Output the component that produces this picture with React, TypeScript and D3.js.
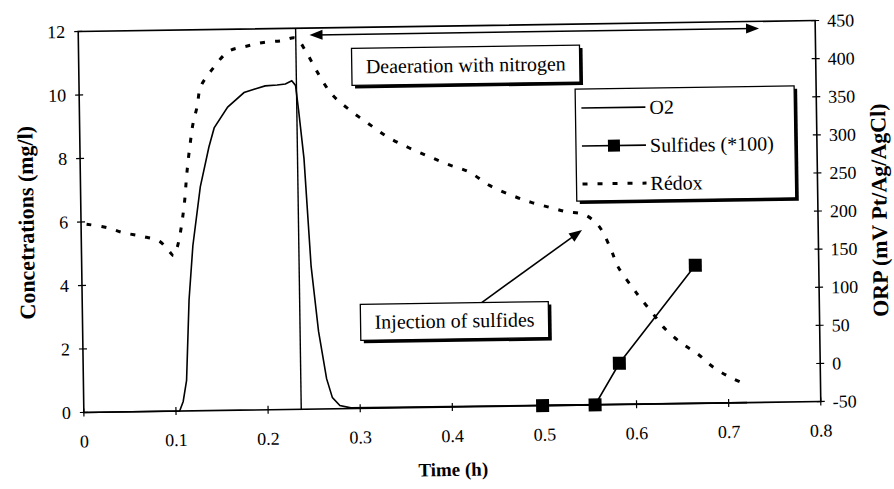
import React from 'react';
import * as d3 from 'd3';

// ---- data ----
const o2Time = [0, 0.104, 0.108, 0.112, 0.116, 0.121, 0.13, 0.14, 0.146, 0.161, 0.179, 0.19, 0.202, 0.215, 0.224, 0.231, 0.235, 0.238, 0.243, 0.249, 0.256, 0.264, 0.27, 0.278, 0.29, 0.72];
const o2Conc = [0, 0, 0.3, 0.96, 3.5, 5.2, 7.05, 8.3, 8.9, 9.55, 10.0, 10.1, 10.2, 10.22, 10.25, 10.35, 10.2, 9.4, 7.9, 4.5, 2.45, 0.95, 0.35, 0.1, 0.02, 0];

const redoxTime = [0.006, 0.028, 0.046, 0.066, 0.085, 0.095, 0.1, 0.104, 0.107, 0.11, 0.113, 0.115, 0.117, 0.12, 0.123, 0.128, 0.132, 0.145, 0.163, 0.181, 0.201, 0.221, 0.236, 0.2465, 0.258, 0.274, 0.292, 0.314, 0.335, 0.357, 0.379, 0.4, 0.422, 0.444, 0.469, 0.489, 0.509, 0.527, 0.546, 0.561, 0.574, 0.582, 0.597, 0.606, 0.619, 0.631, 0.649, 0.667, 0.684, 0.703, 0.721];
const redoxMv = [197, 192, 185, 180, 173, 160, 154, 165, 180, 201, 228, 254, 276, 303, 326, 350, 375, 398, 421, 427, 432, 434, 437, 420, 394, 363, 343, 323, 305, 291, 279, 268, 258, 240, 226, 217, 210, 204, 200, 186, 156, 131, 104, 89, 69, 50, 30, 15, -3, -17, -27];

const sulfTime = [0.498, 0.555, 0.582, 0.666];
const sulfConc = [0, 0, 1.3, 4.35];

const xTicks = [0, 0.1, 0.2, 0.3, 0.4, 0.5, 0.6, 0.7, 0.8];
const xTickLabels = ['0', '0.1', '0.2', '0.3', '0.4', '0.5', '0.6', '0.7', '0.8'];
const leftTicks = [0, 2, 4, 6, 8, 10, 12];
const rightTicks = [-50, 0, 50, 100, 150, 200, 250, 300, 350, 400, 450];

const legendLabels = ['O2', 'Sulfides (*100)', 'Rédox'];
const deaerationTime = 0.236;
const deaerationArrow = [0.251, 0.739];
const deaerationArrowLevel = 11.78;

const FONT = "'Liberation Serif', 'DejaVu Serif', serif";

export default function App() {
  const W = 894, H = 489;
  const L = 81, R = 818, T = 26, B = 407;
  const x = d3.scaleLinear().domain([0, 0.8]).range([L, R]);
  const yL = d3.scaleLinear().domain([0, 12]).range([B, T]);
  const yR = d3.scaleLinear().domain([-50, 450]).range([B, T]);

  const lineL = d3.line<[number, number]>().x(d => x(d[0])).y(d => yL(d[1]));
  const lineR = d3.line<[number, number]>().x(d => x(d[0])).y(d => yR(d[1])).curve(d3.curveCatmullRom);

  const o2Pts = o2Time.map((t, i) => [t, o2Conc[i]] as [number, number]);
  const redoxPts = redoxTime.map((t, i) => [t, redoxMv[i]] as [number, number]);
  const sulfPts = sulfTime.map((t, i) => [t, sulfConc[i]] as [number, number]);

  const sw = 1.6;
  const ay = yL(deaerationArrowLevel);
  const ax1 = x(deaerationArrow[0]);
  const ax2 = x(deaerationArrow[1]);

  const deaBox = { x: 354, y: 47, w: 228, h: 37 };
  const injBox = { x: 359, y: 303, w: 188, h: 36 };
  const legBox = { x: 577, y: 91, w: 219, h: 112 };
  const legRows = [110, 148, 186];

  const txt = { fontFamily: FONT } as React.CSSProperties;

  const shadowBox = (b: { x: number; y: number; w: number; h: number }) => (
    <g>
      <rect x={b.x + 3} y={b.y + 3} width={b.w} height={b.h} fill="#000" />
      <rect x={b.x} y={b.y} width={b.w} height={b.h} fill="#fff" stroke="#000" strokeWidth={1.3} />
    </g>
  );

  const injTip = [581.8, 232];
  const injStart = [479.7, 303.5];
  const ang = Math.atan2(injTip[1] - injStart[1], injTip[0] - injStart[0]);
  const ah = (tx: number, ty: number, a: number, len = 11, wd = 4.5) => {
    const bx = tx - len * Math.cos(a), by = ty - len * Math.sin(a);
    const px = -Math.sin(a) * wd, py = Math.cos(a) * wd;
    return `M${tx},${ty}L${bx + px},${by + py}L${bx - px},${by - py}Z`;
  };

  return (
    <div style={{ position: 'absolute', left: 0, top: 0 }}>
      <svg width={W} height={H} style={{ display: 'block', background: '#fff', fontFamily: FONT }}>
        <rect x={0} y={0} width={W} height={H} fill="#fff" />
        <g transform="rotate(-0.85, 450, 217)">
          <rect x={L} y={T} width={R - L} height={B - T} fill="none" stroke="#000" strokeWidth={sw} />
          {leftTicks.map(v => (
            <g key={'l' + v}>
              <line x1={L - 4} x2={L + 4} y1={yL(v)} y2={yL(v)} stroke="#000" strokeWidth={1.2} />
              <text style={txt} x={L - 13} y={yL(v)} dy="0.35em" textAnchor="end" fontSize={18}>{v}</text>
            </g>
          ))}
          {rightTicks.map(v => (
            <g key={'r' + v}>
              <line x1={R - 4} x2={R + 4} y1={yR(v)} y2={yR(v)} stroke="#000" strokeWidth={1.2} />
              <text style={txt} x={R + 12} y={yR(v)} dy="0.35em" textAnchor="start" fontSize={18}>{v}</text>
            </g>
          ))}
          {xTicks.map((v, i) => (
            <g key={'x' + v}>
              <line x1={x(v)} x2={x(v)} y1={B - 4} y2={B + 4} stroke="#000" strokeWidth={1.2} />
              <text style={txt} x={x(v)} y={B + 35} textAnchor="middle" fontSize={18}>{xTickLabels[i]}</text>
            </g>
          ))}

          <text style={txt} transform={`translate(26, ${(T + B) / 2}) rotate(-90)`} textAnchor="middle" dy="0.35em" fontSize={22} fontWeight="bold">Concetrations (mg/l)</text>
          <text style={txt} transform={`translate(879, ${(T + B) / 2}) rotate(-90)`} textAnchor="middle" dy="0.35em" fontSize={22} fontWeight="bold">ORP (mV Pt/Ag/AgCl)</text>
          <text style={txt} x={(L + R) / 2} y={476} textAnchor="middle" fontSize={19} fontWeight="bold">Time (h)</text>

          <line x1={x(deaerationTime)} x2={x(deaerationTime)} y1={yL(12)} y2={yL(0)} stroke="#000" strokeWidth={1.4} />

          <path d={lineL(o2Pts) || ''} fill="none" stroke="#000" strokeWidth={1.6} />
          <path d={lineR(redoxPts) || ''} fill="none" stroke="#000" strokeWidth={3} strokeDasharray="5,10" />
          <path d={lineL(sulfPts) || ''} fill="none" stroke="#000" strokeWidth={1.6} />
          {sulfPts.map((p, i) => (
            <rect key={'s' + i} x={x(p[0]) - 6.5} y={yL(p[1]) - 6.5} width={13} height={13} fill="#000" />
          ))}

          <line x1={ax1 + 6} x2={ax2 - 6} y1={ay} y2={ay} stroke="#000" strokeWidth={1.5} />
          <path d={ah(ax1, ay, Math.PI, 13, 5)} fill="#000" />
          <path d={ah(ax2, ay, 0, 13, 5)} fill="#000" />
          {shadowBox(deaBox)}
          <text style={txt} x={deaBox.x + deaBox.w / 2} y={deaBox.y + deaBox.h / 2} dy="0.33em" textAnchor="middle" fontSize={20}>Deaeration with nitrogen</text>

          <line x1={injStart[0]} y1={injStart[1]} x2={injTip[0] - 9 * Math.cos(ang)} y2={injTip[1] - 9 * Math.sin(ang)} stroke="#000" strokeWidth={1.6} />
          <path d={ah(injTip[0], injTip[1], ang, 13, 5)} fill="#000" />
          {shadowBox(injBox)}
          <text style={txt} x={injBox.x + injBox.w / 2} y={injBox.y + injBox.h / 2} dy="0.33em" textAnchor="middle" fontSize={20}>Injection of sulfides</text>

          {shadowBox(legBox)}
          <line x1={legBox.x + 6} x2={legBox.x + 70} y1={legRows[0]} y2={legRows[0]} stroke="#000" strokeWidth={1.6} />
          <line x1={legBox.x + 6} x2={legBox.x + 70} y1={legRows[1]} y2={legRows[1]} stroke="#000" strokeWidth={1.6} />
          <rect x={legBox.x + 38 - 6} y={legRows[1] - 6} width={12} height={12} fill="#000" />
          <line x1={legBox.x + 6} x2={legBox.x + 70} y1={legRows[2]} y2={legRows[2]} stroke="#000" strokeWidth={3} strokeDasharray="5,10" />
          {legendLabels.map((lab, i) => (
            <text style={txt} key={lab} x={legBox.x + 74} y={legRows[i]} dy="0.35em" fontSize={20}>{lab}</text>
          ))}
        </g>
      </svg>
    </div>
  );
}
